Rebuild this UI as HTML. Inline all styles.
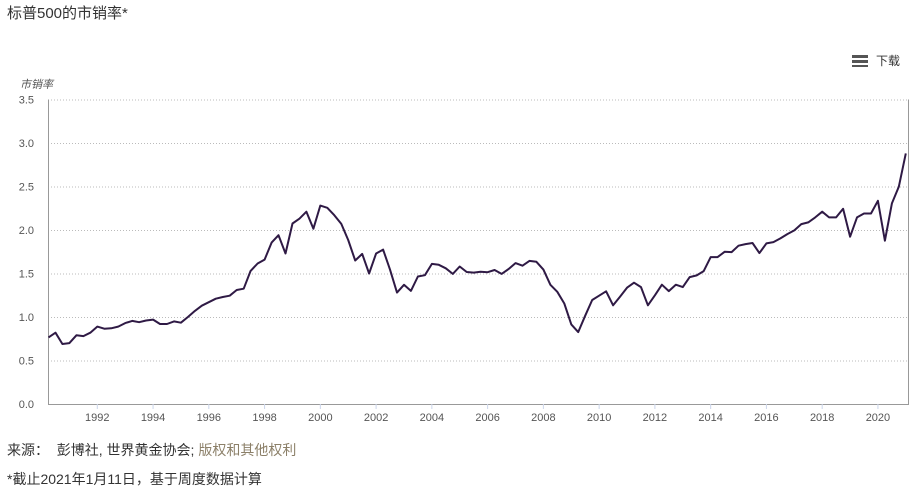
<!DOCTYPE html>
<html><head><meta charset="utf-8">
<style>
body{margin:0;background:#fff;width:923px;height:489px;overflow:hidden;font-family:"Liberation Sans","Noto Sans CJK SC",sans-serif;}
.t{position:absolute;white-space:nowrap;}
</style></head>
<body>
<div class="t" style="left:7px;top:2px;font-size:15px;color:#333;">标普500的市销率*</div>
<div class="t" style="left:852px;top:52px;font-size:12px;color:#333;cursor:pointer;">
 <span style="display:inline-block;width:16px;height:12px;vertical-align:-2px;margin-right:8px;background:linear-gradient(#555 0 3px,transparent 3px 5px,#555 5px 8px,transparent 8px 10px,#555 10px 12px);"></span>下载</div>
<svg id="chart" width="923" height="489" style="position:absolute;left:0;top:0;">
 <g id="grid"></g><g id="axes"></g><g id="series"></g>
</svg>
<div class="t" style="left:7px;top:440px;font-size:14px;color:#333;">来源：&nbsp; 彭博社, 世界黄金协会; <span style="color:#8c8069;cursor:pointer;">版权和其他权利</span></div>
<div class="t" style="left:7px;top:469px;font-size:14px;color:#333;">*截止2021年1月11日，基于周度数据计算</div>
<script>
const startYear = 1990.25;
const values = [0.766,0.82,0.69,0.70,0.79,0.78,0.82,0.89,0.865,0.87,0.89,0.93,0.955,0.94,0.96,0.97,0.92,0.92,0.95,0.935,1.0,1.07,1.13,1.17,1.21,1.23,1.245,1.31,1.325,1.53,1.615,1.66,1.855,1.94,1.73,2.075,2.13,2.21,2.015,2.28,2.255,2.17,2.07,1.885,1.65,1.725,1.50,1.73,1.775,1.545,1.28,1.37,1.30,1.465,1.48,1.61,1.60,1.56,1.495,1.58,
1.517,1.51,1.52,1.515,1.54,1.495,1.55,1.62,1.59,1.645,1.635,1.545,1.37,1.29,1.155,0.915,0.827,1.015,1.195,1.245,1.295,1.134,1.233,1.337,1.394,1.344,1.134,1.249,1.371,1.298,1.371,1.344,1.459,1.478,1.528,1.689,1.689,1.75,1.746,1.819,1.838,1.85,1.735,1.846,1.861,1.903,1.953,1.995,2.068,2.087,2.145,2.21,2.145,2.145,2.244,1.923,2.145,2.19,2.19,2.336,1.877,2.306,2.497,2.88];
const yTicks = [0,0.5,1,1.5,2,2.5,3,3.5];
const yTickLabels = ["0.0","0.5","1.0","1.5","2.0","2.5","3.0","3.5"];
const xTicks = [1992,1994,1996,1998,2000,2002,2004,2006,2008,2010,2012,2014,2016,2018,2020];

const NS="http://www.w3.org/2000/svg";
const L=48,R=908,T=99.5,B=404;
function xs(yr){return 97.3+(yr-1992)*27.88;}
function ys(v){return B-(v/3.5)*(B-T);}
function mk(tag,attrs,parent){const e=document.createElementNS(NS,tag);for(const k in attrs)e.setAttribute(k,attrs[k]);parent.appendChild(e);return e;}
const grid=document.getElementById('grid'),axes=document.getElementById('axes'),series=document.getElementById('series');
yTicks.forEach((v,i)=>{
  if(v>0){const g=mk('line',{x1:L,x2:R,y1:ys(v)+0.5,y2:ys(v)+0.5,stroke:'#bbb','stroke-dasharray':'1,2'},grid);
  
  }
  const t=mk('text',{x:34,y:ys(v)+4,'text-anchor':'end','font-size':'11','fill':'#555','font-family':'Liberation Sans, sans-serif'},axes);
  t.textContent=yTickLabels[i];
  
  
});
const yt=mk('text',{x:20,y:88,'font-size':'11','fill':'#555','font-style':'italic','font-family':'Liberation Sans, Noto Sans CJK SC, sans-serif'},axes);
yt.textContent='市销率';


const la=mk('line',{x1:L+0.5,x2:L+0.5,y1:T,y2:B,stroke:'#999'},axes);


const ra=mk('line',{x1:R+0.5,x2:R+0.5,y1:T,y2:B,stroke:'#999'},axes);


const ba=mk('line',{x1:L,x2:R+1,y1:B+0.5,y2:B+0.5,stroke:'#999'},axes);


xTicks.forEach(yr=>{
  const tk=mk('line',{x1:xs(yr),x2:xs(yr),y1:B,y2:B+5,stroke:'#ccd6eb'},axes);
  
  
  const t=mk('text',{x:xs(yr),y:B+17,'text-anchor':'middle','font-size':'11','fill':'#555','font-family':'Liberation Sans, sans-serif'},axes);
  t.textContent=String(yr);
  
  
});
const pts=values.map((v,i)=>xs(startYear+i/4).toFixed(1)+','+ys(v).toFixed(1)).join(' ');
const pl=mk('polyline',{points:pts,fill:'none',stroke:'#2f1a45','stroke-width':'2','stroke-linejoin':'round'},series);


</script>
</body></html>
